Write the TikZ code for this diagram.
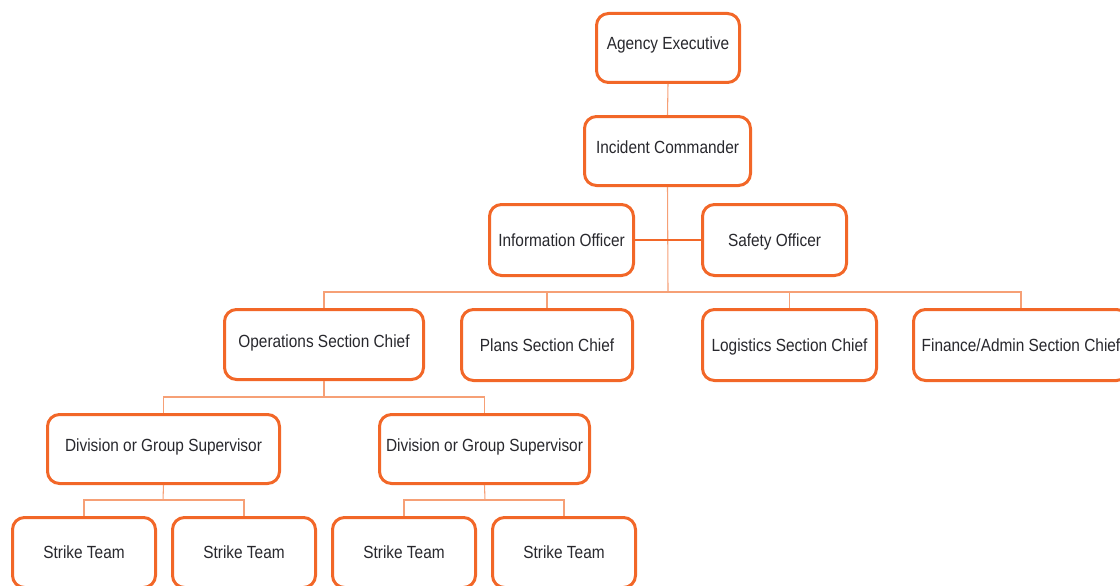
\documentclass[tikz,border=0pt]{standalone}
\usepackage{fontspec}
\setmainfont{Liberation Sans}[FakeStretch=0.875]
\definecolor{boxorange}{RGB}{242,103,40}
\definecolor{lineorange}{RGB}{246,160,118}
\definecolor{txt}{RGB}{40,40,45}
\tikzset{
  box/.style={draw=boxorange, line width=2.25pt, rounded corners=9pt, fill=white,
    inner sep=0pt, align=center, text=txt, text height=9.45pt, text depth=0pt,
    font=\fontsize{13.2pt}{15pt}\selectfont},
  lift/.style={text depth=#1*1.5pt},
  conn/.style={draw=lineorange, line width=0.8pt},
  connd/.style={draw=boxorange, line width=0.8pt}
}
\begin{document}
\begin{tikzpicture}[x=0.75pt,y=-0.75pt]
\useasboundingbox (0,0) rectangle (1120,585);
\clip (0,0) rectangle (1120,585);
% nodes
\node[box, lift=5, minimum width=107.25pt, minimum height=51.75pt] (ae) at (668,48) {Agency Executive};
\node[box, lift=4, minimum width=124.5pt, minimum height=51.75pt] (ic) at (667.5,151) {Incident Commander};
\node[box, minimum width=108pt, minimum height=53.25pt] (io) at (561.5,240) {Information Officer};
\node[box, minimum width=108pt, minimum height=53.25pt] (so) at (774.5,240) {Safety Officer};
\node[box, lift=3.5, minimum width=149.25pt, minimum height=52.5pt] (ops) at (324,344.5) {Operations Section Chief};
\node[box, minimum width=128.25pt, minimum height=53.25pt] (plans) at (547,345) {Plans Section Chief};
\node[box, minimum width=130.5pt, minimum height=53.25pt] (log) at (789.5,345) {Logistics Section Chief};
\node[box, minimum width=161.25pt, minimum height=53.25pt] (fin) at (1021,345) {Finance/Admin Section Chief};
\node[box, lift=4, minimum width=174pt, minimum height=51.75pt] (div1) at (163.5,449) {Division or Group Supervisor};
\node[box, lift=4, minimum width=157.5pt, minimum height=51.75pt] (div2) at (484.5,449) {Division or Group Supervisor};
\node[box, minimum width=107.25pt, minimum height=52.5pt] (st1) at (84,552.5) {Strike Team};
\node[box, minimum width=107.25pt, minimum height=52.5pt] (st2) at (244,552.5) {Strike Team};
\node[box, minimum width=107.25pt, minimum height=52.5pt] (st3) at (404,552.5) {Strike Team};
\node[box, minimum width=107.25pt, minimum height=52.5pt] (st4) at (564,552.5) {Strike Team};
% bus coordinates
\coordinate (bus1) at (668,292);
\coordinate (bus2) at (324,397);
\coordinate (bus3) at (163,500);
\coordinate (bus4) at (485,500);
% connectors
\draw[conn] (ae.south) -- (ic.north);
\draw[conn] (ic.south) -- (bus1);
\draw[connd] (io.east) -- (so.west);
\draw[conn] (ops.north) -- (ops.north |- bus1) -- (fin.north |- bus1) -- (fin.north);
\draw[conn] (plans.north) -- (plans.north |- bus1);
\draw[conn] (log.north) -- (log.north |- bus1);
\draw[conn] (ops.south) -- (bus2);
\draw[conn] (div1.north) -- (div1.north |- bus2) -- (div2.north |- bus2) -- (div2.north);
\draw[conn] (div1.south) -- (bus3);
\draw[conn] (st1.north) -- (st1.north |- bus3) -- (st2.north |- bus3) -- (st2.north);
\draw[conn] (div2.south) -- (bus4);
\draw[conn] (st3.north) -- (st3.north |- bus4) -- (st4.north |- bus4) -- (st4.north);
\end{tikzpicture}
\end{document}
